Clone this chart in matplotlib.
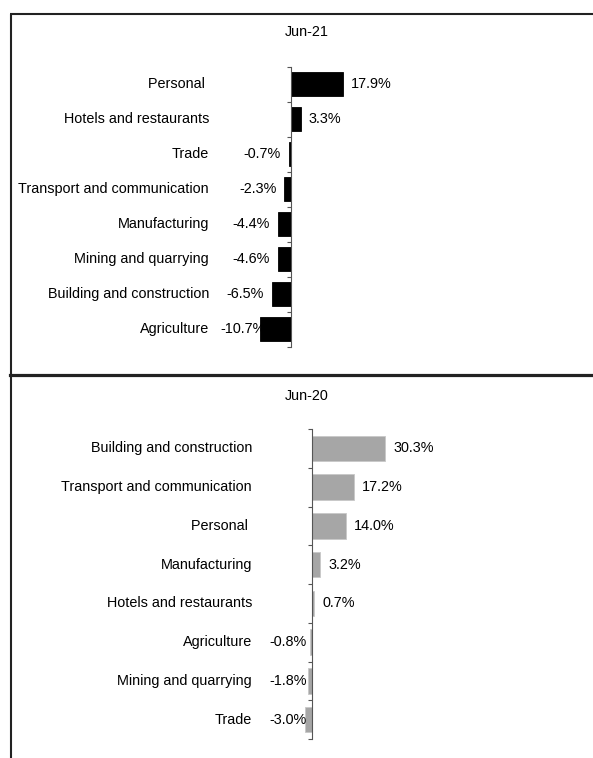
import numpy as np
import matplotlib
matplotlib.use('Agg')
import matplotlib.pyplot as plt
from matplotlib.lines import Line2D
from matplotlib import transforms

plt.rcParams['font.family'] = ['Liberation Sans', 'DejaVu Sans']

# Data
#---------------------------------------------------------
cats_21 = ['Personal ', 'Hotels and restaurants', 'Trade', 'Transport and communication',
           'Manufacturing', 'Mining and quarrying', 'Building and construction', 'Agriculture']
vals_21 = [17.9, 3.3, -0.7, -2.3, -4.4, -4.6, -6.5, -10.7]

cats_20 = ['Building and construction', 'Transport and communication', 'Personal ',
           'Manufacturing', 'Hotels and restaurants', 'Agriculture', 'Mining and quarrying', 'Trade']
vals_20 = [30.3, 17.2, 14.0, 3.2, 0.7, -0.8, -1.8, -3.0]

W, H = 593, 758
FS = 10.4
fig = plt.figure(figsize=(W/100, H/100), dpi=100)

# panel frames drawn in figure coords
frame = dict(color='#222222', linewidth=1.5, solid_capstyle='butt')
fig.add_artist(Line2D([10/W, 1], [1-14/H, 1-14/H], **frame))
fig.add_artist(Line2D([10.5/W, 10.5/W], [1-14/H, 0], **frame))
fig.add_artist(Line2D([10/W, 1], [1-375/H, 1-375/H], color='#222222', linewidth=2.3))


def panel(rect, cats, vals, color, edge, zero_px, scale, label_px, title, title_y):
    left, top, right, bottom = rect
    ax = fig.add_axes([left/W, 1-bottom/H, (right-left)/W, (bottom-top)/H])
    n = len(cats)
    y = np.arange(n)
    ax.barh(y, vals, height=0.66, color=color, edgecolor=edge, linewidth=0.6, zorder=2)

    ax.set_xlim(-(zero_px-left)/scale, (right-zero_px)/scale)
    ax.set_ylim(n-0.5, -0.5)

    # axis through zero with ticks between categories
    for s in ['top', 'right', 'bottom']:
        ax.spines[s].set_visible(False)
    ax.spines['left'].set_position(('data', 0))
    ax.spines['left'].set_color('#555555')
    ax.spines['left'].set_zorder(3)
    ax.set_yticks(np.arange(-0.5, n, 1))
    ax.set_yticklabels([])
    ax.tick_params(axis='y', length=2.9, width=0.8, color='#555555', direction='out')
    ax.set_xticks([])
    ax.patch.set_visible(False)

    # category labels, right aligned left of plot area
    tr = transforms.blended_transform_factory(fig.transFigure, ax.transData)
    for yi, c in zip(y, cats):
        ax.text(label_px/W, yi, c, transform=tr, ha='right', va='center', fontsize=FS)

    # value labels outside bar ends
    anns = []
    for yi, v in zip(y, vals):
        off = 5.8 if v >= 0 else -5.8
        a = ax.annotate(f'{v:.1f}%', xy=(v, yi), xytext=(off, 0), textcoords='offset points',
                        ha='left' if v >= 0 else 'right', va='center', fontsize=FS, zorder=4)
        anns.append(a)

    fig.text(307/W, 1-title_y/H, title, ha='center', va='center', fontsize=FS)
    return ax, anns


ax1, anns1 = panel((220, 66.5, 590, 346.5), cats_21, vals_21, 'black', 'black',
                   291, 2.9, 209, 'Jun-21', 32.5)
ax2, anns2 = panel((269, 429, 590, 739), cats_20, vals_20, '#a6a6a6', '#c8c8c8',
                   312.3, 2.40, 252, 'Jun-20', 396)

# keep negative labels inside the plot area (pushed over the bar like Excel does)
fig.canvas.draw()
r = fig.canvas.get_renderer()
for ax, anns in [(ax1, anns1), (ax2, anns2)]:
    x_left = ax.get_window_extent(r).x0
    for a in anns:
        bb = a.get_window_extent(r)
        if bb.x0 < x_left:
            shift = (x_left - bb.x0) * 72 / fig.dpi
            a.xyann = (a.xyann[0] + shift, a.xyann[1])

fig.savefig('out.png', dpi=100)
